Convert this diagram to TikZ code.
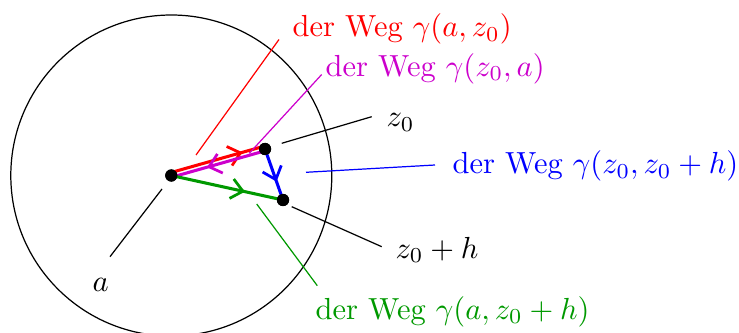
\documentclass[tikz,border=0pt]{standalone}
\usetikzlibrary{arrows.meta,decorations.markings}
\definecolor{mymag}{RGB}{204,0,204}
\definecolor{mygreen}{RGB}{0,153,0}
\tikzset{
  dot/.style={circle,fill=black,inner sep=0pt,minimum size=4pt},
  pathline/.style={line width=1pt},
  leader/.style={line width=0.4pt},
  lbl/.style={inner sep=0pt,font=\normalsize},
  midarrow/.style={postaction={decorate,decoration={markings,
      mark=at position #1 with {\arrow{Straight Barb[length=3.8pt,width=6.5pt,line width=0.9pt]}}}}}
}
\begin{document}
\begin{tikzpicture}[x=0.3279pt,y=-0.3279pt]
\useasboundingbox (0,0) rectangle (739,333);
% circle
\draw[line width=0.4pt] (171.3,175.5) circle[radius=160.5];
% points
\node[dot] (a) at (171.3,175.5) {};
\node[dot] (z0) at (265,149) {};
\node[dot] (z1) at (283,200) {};
% paths
\draw[pathline,red,midarrow=0.76] ([yshift=1pt]a.center) -- ([yshift=1pt]z0.center);
\draw[pathline,mymag,midarrow=0.62] ([yshift=-0.6pt]z0.center) -- ([yshift=-0.6pt]a.center);
\draw[pathline,blue,midarrow=0.64] (z0.center) -- (z1.center);
\draw[pathline,mygreen,midarrow=0.66] (a.center) -- (z1.center);
% redraw dots on top
\fill (a) circle[radius=2pt];
\fill (z0) circle[radius=2pt];
\fill (z1) circle[radius=2pt];
% labels
\node[lbl,anchor=west,text=red] (lr) at (292,29.2) {der Weg $\gamma(a,z_0)$};
\node[lbl,anchor=west,text=mymag] (lm) at (325,68.5) {der Weg $\gamma(z_0,a)$};
\node[lbl,anchor=base west] (lz0) at (386,126.7) {$z_0$};
\node[lbl,anchor=west,text=blue] (lb) at (452,166) {der Weg $\gamma(z_0,z_0+h)$};
\node[lbl,anchor=base west] (lz1) at (395,258.3) {$z_0+h$};
\node[lbl,anchor=base west] (la) at (92,291.7) {$a$};
\node[lbl,anchor=west,text=mygreen] (lg) at (315,311.7) {der Weg $\gamma(a,z_0+h)$};
% leader coordinates
\coordinate (r1) at (196,155);   \coordinate (r2) at (279,39.5);
\coordinate (m1) at (249.3,153.3); \coordinate (m2) at (321.7,74.5);
\coordinate (k1) at (281.7,143.3); \coordinate (k2) at (371.7,116.7);
\coordinate (b1) at (306,172.3); \coordinate (b2) at (435,165);
\coordinate (h1) at (291.7,206.7); \coordinate (h2) at (381.7,246.7);
\coordinate (a1) at (162,189);   \coordinate (a2) at (110,256.7);
\coordinate (g1) at (256.7,204); \coordinate (g2) at (317.3,285.7);
% leaders
\draw[leader,red] (r1) -- (r2);
\draw[leader,mymag] (m1) -- (m2);
\draw[leader] (k1) -- (k2);
\draw[leader,blue] (b1) -- (b2);
\draw[leader] (h1) -- (h2);
\draw[leader] (a1) -- (a2);
\draw[leader,mygreen] (g1) -- (g2);
\end{tikzpicture}
\end{document}
